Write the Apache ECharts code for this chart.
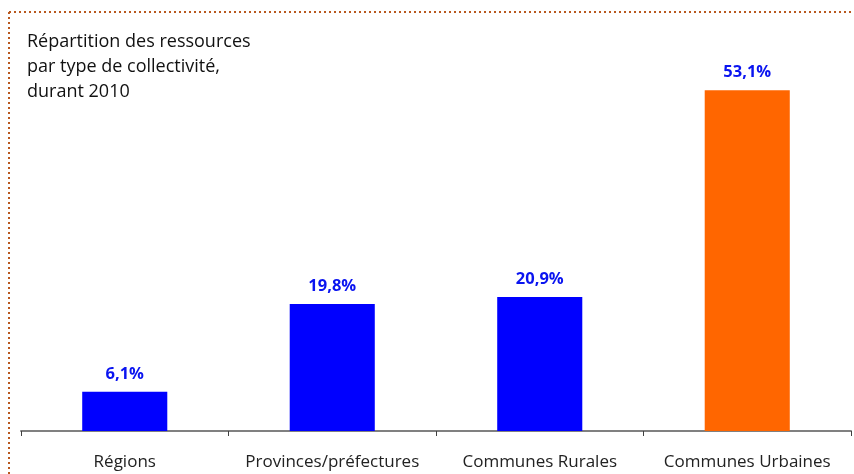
<!DOCTYPE html>
<html><head><meta charset="utf-8">
<script src="https://cdn.jsdelivr.net/npm/echarts@6/dist/echarts.min.js"></script>
<style>html,body{margin:0;padding:0;background:#fff}#c{width:854px;height:474px}</style>
</head><body><div id="c"></div>
<script>
const categories = ['Régions', 'Provinces/préfectures', 'Communes Rurales', 'Communes Urbaines'];
const values = [6.1, 19.8, 20.9, 53.1];
const barColors = ['#0000FF', '#0000FF', '#0000FF', '#FF6600'];
const titleLines = ['Répartition des ressources', 'par type de collectivité,', 'durant 2010'];

const chart = echarts.init(document.getElementById('c'), null, {renderer: 'canvas'});
chart.setOption({
  animation: false,
  backgroundColor: '#fff',
  grid: {left: 21, right: 3, top: 46, bottom: 43},
  xAxis: {
    type: 'category', data: categories,
    axisLine: {lineStyle: {color: '#808080', width: 2}},
    axisTick: {show: true, interval: 0, length: 5, lineStyle: {color: '#404040', width: 1}},
    axisLabel: {interval: 0, hideOverlap: false, color: '#222', fontSize: 17, fontFamily: 'Open Sans', margin: 23}
  },
  yAxis: {type: 'value', min: 0, max: 60, show: false, splitLine: {show: false}},
  series: [{
    type: 'bar', barWidth: '41%',
    data: values.map((v, i) => ({value: v, itemStyle: {color: barColors[i]}})),
    label: {show: true, position: 'top', distance: 9, color: '#0A14F0', fontWeight: 'bold', fontSize: 16.5, fontFamily: 'Open Sans',
      formatter: p => p.value.toFixed(1).replace('.', ',') + '%'}
  }],
  graphic: [
    {type: 'line', shape: {x1: 9, y1: 12, x2: 854, y2: 12}, style: {stroke: '#B8581E', lineWidth: 2, lineDash: [2, 3]}},
    {type: 'line', shape: {x1: 9, y1: 12, x2: 9, y2: 474}, style: {stroke: '#B8581E', lineWidth: 2, lineDash: [2, 3]}},
    {type: 'text', left: 27, top: 29, style: {text: titleLines.join('\n'), fontSize: 18, lineHeight: 25, fill: '#111', fontFamily: 'Open Sans'}}
  ]
});
</script></body></html>
